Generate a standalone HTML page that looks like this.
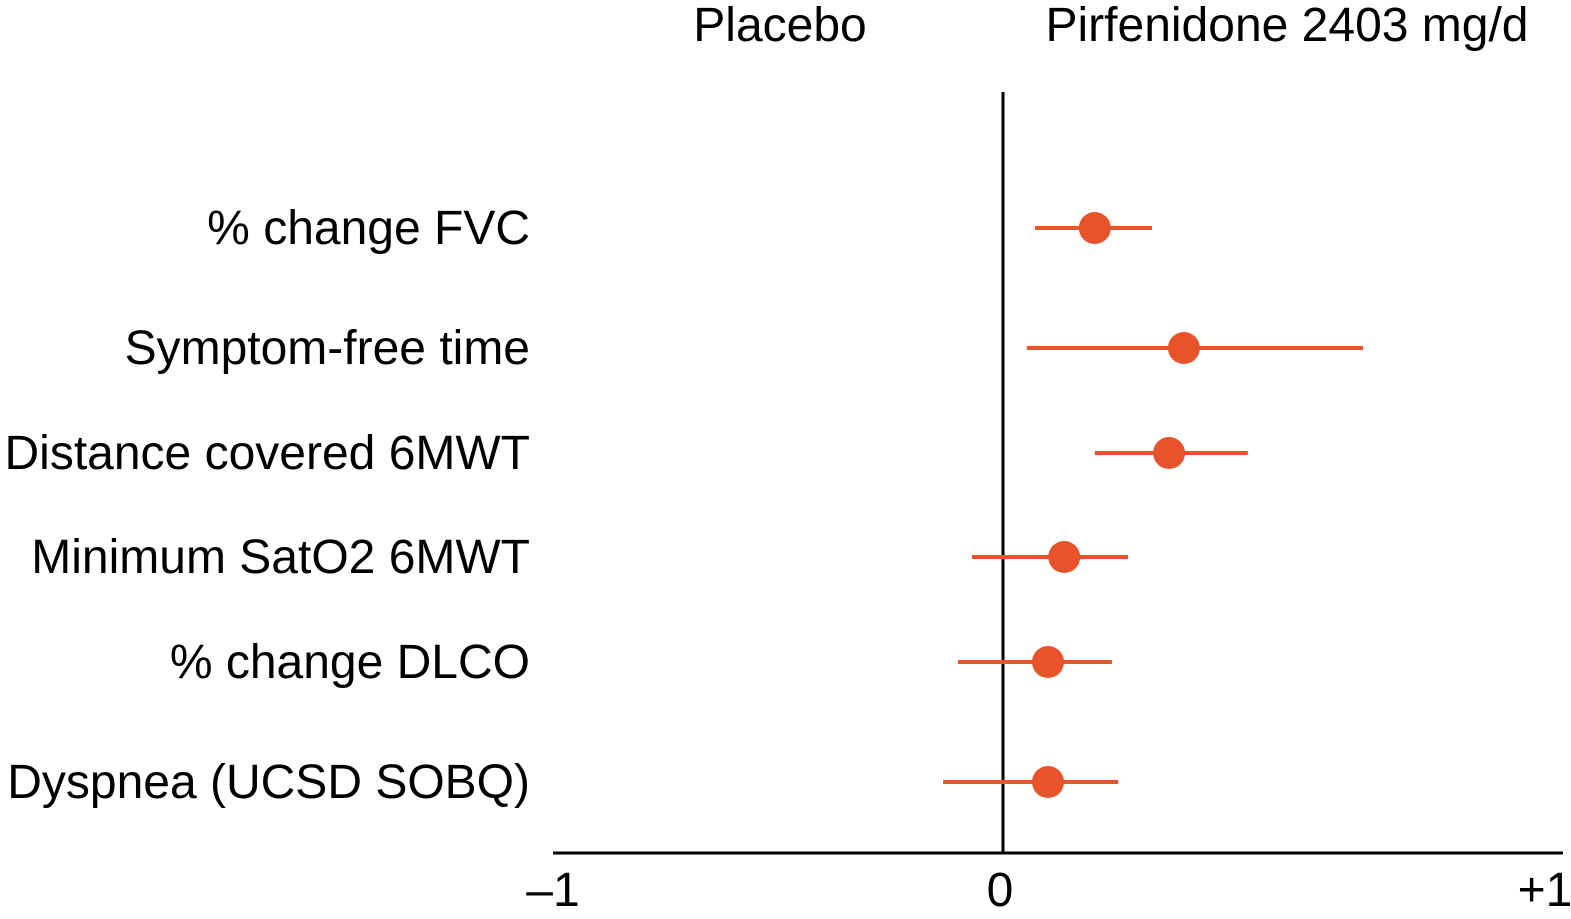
<!DOCTYPE html>
<html><head><meta charset="utf-8"><style>
body{margin:0;background:#fff;}
svg{display:block;font-family:"Liberation Sans",Arial,sans-serif;}
</style></head><body>
<svg id="chart" width="1571" height="919" viewBox="0 0 1571 919">
<text x="780" y="41" font-size="48" text-anchor="middle">Placebo</text>
<text x="1287" y="41" font-size="48" text-anchor="middle">Pirfenidone 2403 mg/d</text>
<line x1="1003" y1="92" x2="1003" y2="853" stroke="#000" stroke-width="3"/>
<line x1="553" y1="853" x2="1563" y2="853" stroke="#000" stroke-width="3"/>
<g id="marks"></g>
<g id="ticks"></g>
</svg>
<script>
const categories=["% change FVC","Symptom-free time","Distance covered 6MWT","Minimum SatO2 6MWT","% change DLCO","Dyspnea (UCSD SOBQ)"];
const estimates=[0.204,0.402,0.369,0.136,0.1,0.1];
const lowerCI=[0.071,0.053,0.204,-0.069,-0.1,-0.133];
const upperCI=[0.331,0.8,0.544,0.278,0.242,0.256];
const tickValues=[-1,0,1];
const tickLabels=["\u20131","0","+1"];
const rowY=[228,348,453,557,662,782];
const NS="http://www.w3.org/2000/svg";
function x(v){return 1003+v*450;}
function tickX(v){return v<0?x(v):v>0?1545:1000;}
const marks=document.getElementById('marks');
categories.forEach((c,i)=>{
  const y=rowY[i];
  const t=document.createElementNS(NS,'text');
  
  
  t.setAttribute('x',530);t.setAttribute('y',y+16);t.setAttribute('font-size','48');t.setAttribute('text-anchor','end');
  t.textContent=c;marks.appendChild(t);
  const l=document.createElementNS(NS,'line');
  
  
  l.setAttribute('x1',x(lowerCI[i]));l.setAttribute('x2',x(upperCI[i]));l.setAttribute('y1',y);l.setAttribute('y2',y);
  l.setAttribute('stroke','#e8532b');l.setAttribute('stroke-width','4');marks.appendChild(l);
  const d=document.createElementNS(NS,'circle');
  
  
  d.setAttribute('cx',x(estimates[i]));d.setAttribute('cy',y);d.setAttribute('r','16');d.setAttribute('fill','#e8532b');
  marks.appendChild(d);
});
const ticks=document.getElementById('ticks');
tickValues.forEach((v,i)=>{
  const t=document.createElementNS(NS,'text');
  
  
  t.setAttribute('x',tickX(v));t.setAttribute('y',906);t.setAttribute('font-size','48');t.setAttribute('text-anchor','middle');
  t.textContent=tickLabels[i];ticks.appendChild(t);
});
</script>
</body></html>
